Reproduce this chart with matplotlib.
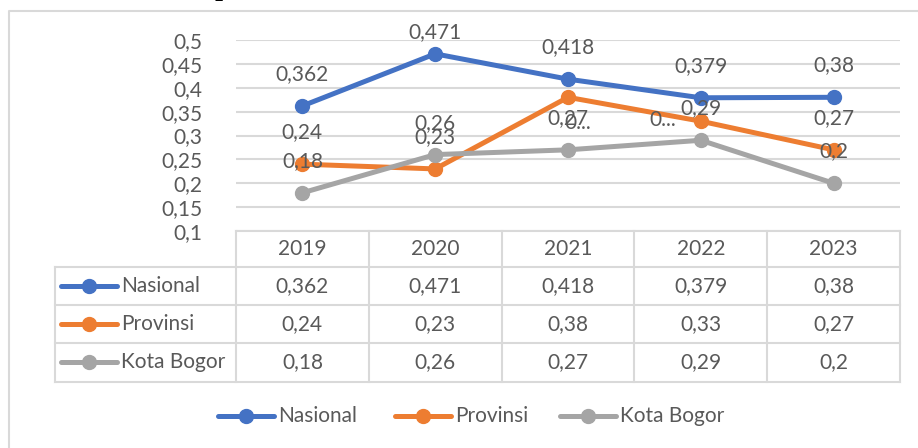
import matplotlib
matplotlib.use("Agg")
import matplotlib.pyplot as plt
from matplotlib.lines import Line2D

# ---------------- data ----------------
years = ["2019", "2020", "2021", "2022", "2023"]
series_names = ["Nasional", "Provinsi", "Kota Bogor"]
nasional = [0.362, 0.471, 0.418, 0.379, 0.38]
provinsi = [0.24, 0.23, 0.38, 0.33, 0.27]
kota_bogor = [0.18, 0.26, 0.27, 0.29, 0.2]
yticks = [0.1, 0.15, 0.2, 0.25, 0.3, 0.35, 0.4, 0.45, 0.5]

BLUE = "#4472C4"
ORANGE = "#ED7D31"
GRAY = "#A5A5A5"
TXT = "#595959"
GRID = "#D9D9D9"
FONT = "Lato"
FS = 15

series = [nasional, provinsi, kota_bogor]
colors = [BLUE, ORANGE, GRAY]

def fmt(v):
    return f"{v:g}".replace(".", ",")

W, H = 918, 448
fig = plt.figure(figsize=(W / 100, H / 100), dpi=100)
fig.patch.set_facecolor("white")

# overlay axes in pixel coordinates (frame, table, legend)
ov = fig.add_axes([0, 0, 1, 1])
ov.set_xlim(0, W)
ov.set_ylim(H, 0)
ov.axis("off")

# chart frame (runs off the right and bottom edges)
ov.plot([9, 9, W + 5], [H + 5, 11, 11], color=GRID, lw=1.5, solid_capstyle="butt")

# cut-off title descender
ov.text(222, -4, "p", ha="center", va="baseline", fontsize=16, fontweight="bold",
        family="DejaVu Serif", color="black", clip_on=False)

# ---------------- plot area ----------------
L, R, T, B = 236, 900, 40, 231
ax = fig.add_axes([L / W, 1 - B / H, (R - L) / W, (B - T) / H])
ax.patch.set_alpha(0)
ax.set_xlim(-0.5, len(years) - 0.5)
ax.set_ylim(0.1, 0.5)
ax.set_yticks(yticks)
ax.set_yticklabels([fmt(v) for v in yticks], fontsize=FS, color=TXT, family=FONT)
ax.tick_params(axis="y", length=0, pad=24)
ax.set_xticks([])
for s in ax.spines.values():
    s.set_visible(False)
ax.grid(axis="y", color=GRID, lw=1.5)
ax.set_axisbelow(True)

x = list(range(len(years)))
for vals, col in zip(series, colors):
    ax.plot(x, vals, color=col, lw=3.6, marker="o", markersize=10, clip_on=False,
            solid_capstyle="round", zorder=3)

# data labels (Excel placed them above, some overlapping/truncated)
offsets = {
    0: [(0, 32), (0, 22), (0, 32), (0, 32), (0, 32)],
    1: [(0, 32), (0, 32), (10, -26), (-38, 1), (0, 32)],
    2: [(0, 32), (0, 32), (0, 32), (0, 32), (0, 32)],
}
for si, (vals, col) in enumerate(zip(series, colors)):
    for i, v in enumerate(vals):
        dx, dy = offsets[si][i]
        lab = fmt(v)
        if si == 1 and i in (2, 3):
            lab = "0..."
        ax.annotate(lab, (i, v), xytext=(dx, dy), textcoords="offset pixels",
                    ha="center", va="center", fontsize=FS, color=TXT, family=FONT,
                    zorder=4, annotation_clip=False)

# ---------------- data table ----------------
col_edges = [L + (R - L) * k / len(years) for k in range(len(years) + 1)]
row_edges = [231, 267, 305, 343, 382]
TL = 55
lw_t = 1.5
# horizontal lines
ov.plot([L, R], [row_edges[0]] * 2, color=GRID, lw=lw_t)
for yy in row_edges[1:]:
    ov.plot([TL, R], [yy, yy], color=GRID, lw=lw_t)
# vertical lines
ov.plot([TL, TL], [row_edges[1], row_edges[-1]], color=GRID, lw=lw_t)
for xx in col_edges:
    ov.plot([xx, xx], [row_edges[0], row_edges[-1]], color=GRID, lw=lw_t)

for k, yr in enumerate(years):
    cx = (col_edges[k] + col_edges[k + 1]) / 2
    ov.text(cx, (row_edges[0] + row_edges[1]) / 2, yr, ha="center", va="center",
            fontsize=FS, color=TXT, family=FONT)

for r, (name, vals, col) in enumerate(zip(series_names, series, colors)):
    cy = (row_edges[r + 1] + row_edges[r + 2]) / 2
    ov.add_line(Line2D([61, 117], [cy, cy], color=col, lw=3.6, solid_capstyle="round"))
    ov.plot([89], [cy], marker="o", markersize=10, color=col)
    ov.text(121, cy, name, ha="left", va="center", fontsize=FS, color=TXT, family=FONT)
    for k, v in enumerate(vals):
        cx = (col_edges[k] + col_edges[k + 1]) / 2
        ov.text(cx, cy, fmt(v), ha="center", va="center", fontsize=FS, color=TXT,
                family=FONT)

# ---------------- legend ----------------
leg_y = 416
leg_x = [218, 395, 560]
for lx, name, col in zip(leg_x, series_names, colors):
    ov.add_line(Line2D([lx, lx + 56], [leg_y, leg_y], color=col, lw=3.6,
                       solid_capstyle="round"))
    ov.plot([lx + 28], [leg_y], marker="o", markersize=10, color=col)
    ov.text(lx + 60, leg_y, name, ha="left", va="center", fontsize=FS, color=TXT,
            family=FONT)

fig.savefig("out.png", dpi=100, facecolor="white")
